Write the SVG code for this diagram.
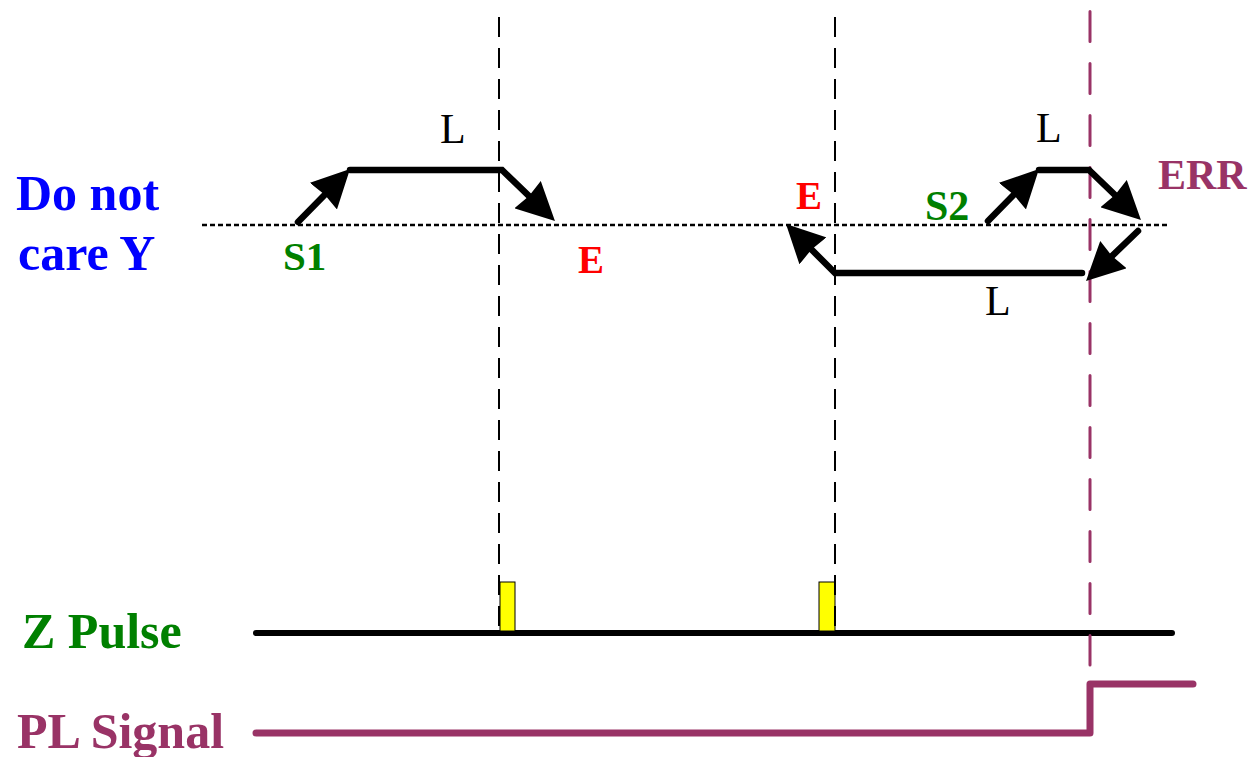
<svg xmlns="http://www.w3.org/2000/svg" width="1251" height="757" viewBox="0 0 1251 757">
  <style>
    text { font-family: "Liberation Serif", Tinos, "Times New Roman", Times, serif; }
    .lbl { font-weight: bold; }
    .reg { font-weight: normal; fill: #000; }
    .move { fill: none; stroke: #000; stroke-width: 6.5; stroke-linecap: round; stroke-linejoin: miter; }
    .guide { stroke: #000; stroke-width: 2; stroke-dasharray: 20 11; fill: none; }
    .errguide { stroke: #993366; stroke-width: 3; stroke-dasharray: 30 22; stroke-linecap: round; fill: none; }
    .green { fill: #008000; }
    .red { fill: #ff0000; }
    .blue { fill: #0000ff; }
    .purple { fill: #993366; }
  </style>
  <defs>
    <marker id="head" viewBox="0 0 38 38" markerWidth="38" markerHeight="38" refX="10" refY="19" orient="auto" markerUnits="userSpaceOnUse">
      <path d="M0,0 L38,19 L0,38 L2,19 z" fill="#000"/>
    </marker>
  </defs>

  <rect width="1251" height="757" fill="#fff"/>

  <!-- axis labels -->
  <g id="label-y" class="lbl blue" font-size="50">
    <text x="16" y="210">Do not</text>
    <text x="18" y="270">care Y</text>
  </g>
  <g id="label-z" class="lbl green" font-size="50">
    <text x="22" y="648">Z Pulse</text>
  </g>
  <g id="label-pl" class="lbl purple" font-size="50">
    <text x="17" y="748">PL Signal</text>
  </g>

  <!-- reference and guide lines -->
  <g id="guides">
    <line x1="202" y1="225" x2="1170" y2="225" stroke="#000" stroke-width="2.5" stroke-dasharray="5 3"/>
  </g>

  <!-- Z pulse trace -->
  <g id="z-pulse">
    <line x1="256" y1="633" x2="1172" y2="633" stroke="#000" stroke-width="6" stroke-linecap="round"/>
    <rect x="500" y="582" width="15" height="49" fill="#ffff00" stroke="#000" stroke-width="1"/>
    <rect x="819" y="582" width="16" height="49" fill="#ffff00" stroke="#000" stroke-width="1"/>
  </g>

  <!-- PL signal trace -->
  <g id="pl-signal">
    <polyline points="256,733 1090,733 1090,684 1193,684" fill="none" stroke="#993366" stroke-width="7" stroke-linecap="round" stroke-linejoin="round"/>
  </g>

  <!-- vertical markers -->
  <g id="markers">
    <line class="guide" x1="499" y1="17" x2="499" y2="632"/>
    <line class="guide" x1="835" y1="17" x2="835" y2="632"/>
    <line class="errguide" x1="1090" y1="11.5" x2="1090" y2="665"/>
  </g>

  <!-- motion paths -->
  <g id="connectors">
    <line class="move" x1="298" y1="222" x2="330.4" y2="189" marker-end="url(#head)"/>
    <polyline class="move" points="350,170 502,170 534.8,201.6" marker-end="url(#head)"/>
    <polyline class="move" points="1082,273 835,273 805.8,243.8" marker-end="url(#head)"/>
    <line class="move" x1="988" y1="221" x2="1019.4" y2="189" marker-end="url(#head)"/>
    <polyline class="move" points="1039,170 1089,170 1120.8,200.6" marker-end="url(#head)"/>
    <line class="move" x1="1138" y1="231" x2="1106.2" y2="261.6" marker-end="url(#head)"/>
  </g>

  <!-- path annotations -->
  <g id="s1"><text class="lbl green" x="283" y="270" font-size="41">S1</text></g>
  <g id="l1"><text class="reg" x="440" y="143" font-size="42">L</text></g>
  <g id="e1"><text class="lbl red" x="578" y="273" font-size="39">E</text></g>
  <g id="e2"><text class="lbl red" x="796" y="209" font-size="39">E</text></g>
  <g id="s2"><text class="lbl green" x="925" y="220" font-size="42">S2</text></g>
  <g id="l2"><text class="reg" x="1036" y="142" font-size="42">L</text></g>
  <g id="l3"><text class="reg" x="985" y="315" font-size="42">L</text></g>
  <g id="err"><text class="lbl purple" x="1158" y="189" font-size="42">ERR</text></g>
</svg>
